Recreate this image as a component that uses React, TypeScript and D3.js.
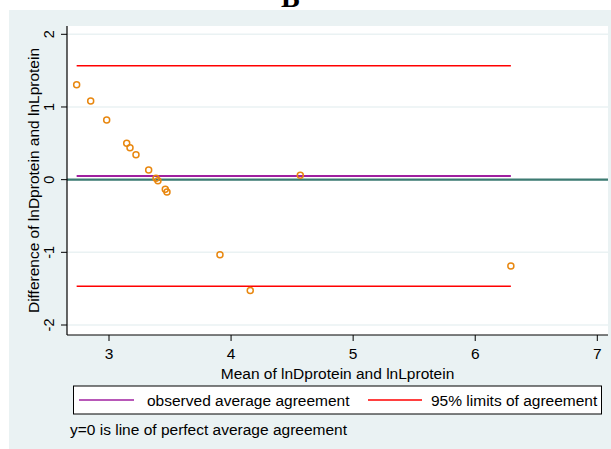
import React from 'react';
import * as d3 from 'd3';

// mean of the two measures (x) and their difference (y)
const means = [2.735, 2.85, 2.981, 3.145, 3.172, 3.221, 3.325, 3.385, 3.401, 3.461, 3.475, 3.909, 4.157, 4.567, 6.292];
const diffs = [1.307, 1.083, 0.821, 0.5, 0.44, 0.344, 0.133, 0.019, -0.014, -0.132, -0.169, -1.032, -1.527, 0.06, -1.187];

const meanDiff = 0.051;
const limits = [1.568, -1.466];

const xTicks = [3, 4, 5, 6, 7];
const yTicks = [-2, -1, 0, 1, 2];

const W = 611, H = 449;
const font = '"Liberation Sans", Arial, sans-serif';
const fs = 15.5;

export default function App() {
  const left = 67, right = 608, top = 26, bottom = 335;

  const x = d3.scaleLinear().domain([3, 7]).range([109, 597.3]);
  const y = d3.scaleLinear().domain([-2, 2]).range([325, 34.3]);

  const [xMin, xMax] = d3.extent(means) as [number, number];

  return (
    <svg width={W} height={H} style={{ position: 'absolute', left: 0, top: 0, background: '#fff' }}
         fontFamily={font}>
      <text x={281} y={7} fontFamily="'Liberation Serif', serif" fontWeight="bold" fontSize={28}>B</text>
      <rect x={9} y={10} width={W - 9} height={H - 10} fill="#eaf2f3" />
      <rect x={left} y={top} width={right - left} height={bottom - top} fill="#fff" />

      {yTicks.map(t =>
        <line key={'g' + t} x1={left} x2={right} y1={y(t)} y2={y(t)} stroke="#eaf2f3" strokeWidth={1.5} />
      )}

      {/* zero line */}
      <line x1={left} x2={right} y1={y(0)} y2={y(0)} stroke="#3d7b72" strokeWidth={2.2} />

      {limits.map((l, i) =>
        <line key={'l' + i} x1={x(xMin)} x2={x(xMax)} y1={y(l)} y2={y(l)} stroke="#ff0000" strokeWidth={1.5} />
      )}
      <line x1={x(xMin)} x2={x(xMax)} y1={y(meanDiff)} y2={y(meanDiff)} stroke="#a020a0" strokeWidth={2} />

      {means.map((m, i) =>
        <circle key={i} cx={x(m)} cy={y(diffs[i])} r={3} fill="none" stroke="#e8870f" strokeWidth={1.5} />
      )}

      {/* axes */}
      <line x1={left} x2={left} y1={top} y2={bottom} stroke="#000" strokeWidth={1.2} />
      <line x1={left} x2={right} y1={bottom} y2={bottom} stroke="#000" strokeWidth={1.2} />

      {yTicks.map(t =>
        <g key={'y' + t}>
          <line x1={left - 6} x2={left} y1={y(t)} y2={y(t)} stroke="#000" />
          <text transform={`translate(${left - 13},${y(t)}) rotate(-90)`} textAnchor="middle" fontSize={14.5}>{t}</text>
        </g>
      )}
      {xTicks.map(t =>
        <g key={'x' + t}>
          <line x1={x(t)} x2={x(t)} y1={bottom} y2={bottom + 6} stroke="#000" />
          <text x={x(t)} y={359} textAnchor="middle" fontSize={fs}>{t}</text>
        </g>
      )}

      <text transform={`translate(39,${(top + bottom) / 2}) rotate(-90)`} textAnchor="middle" fontSize={fs}>
        Difference of lnDprotein and lnLprotein
      </text>
      <text x={(left + right) / 2} y={379} textAnchor="middle" fontSize={fs}>Mean of lnDprotein and lnLprotein</text>

      {/* legend */}
      <rect x={73.5} y={386} width={528} height={28} fill="#fff" stroke="#000" strokeWidth={1} />
      <line x1={79} x2={134} y1={400} y2={400} stroke="#a020a0" strokeWidth={1.5} />
      <text x={147} y={406} fontSize={fs}>observed average agreement</text>
      <line x1={368} x2={422} y1={400} y2={400} stroke="#ff0000" strokeWidth={1.5} />
      <text x={431} y={406} fontSize={fs}>95% limits of agreement</text>

      <text x={70} y={435} fontSize={fs}>y=0 is line of perfect average agreement</text>
    </svg>
  );
}
